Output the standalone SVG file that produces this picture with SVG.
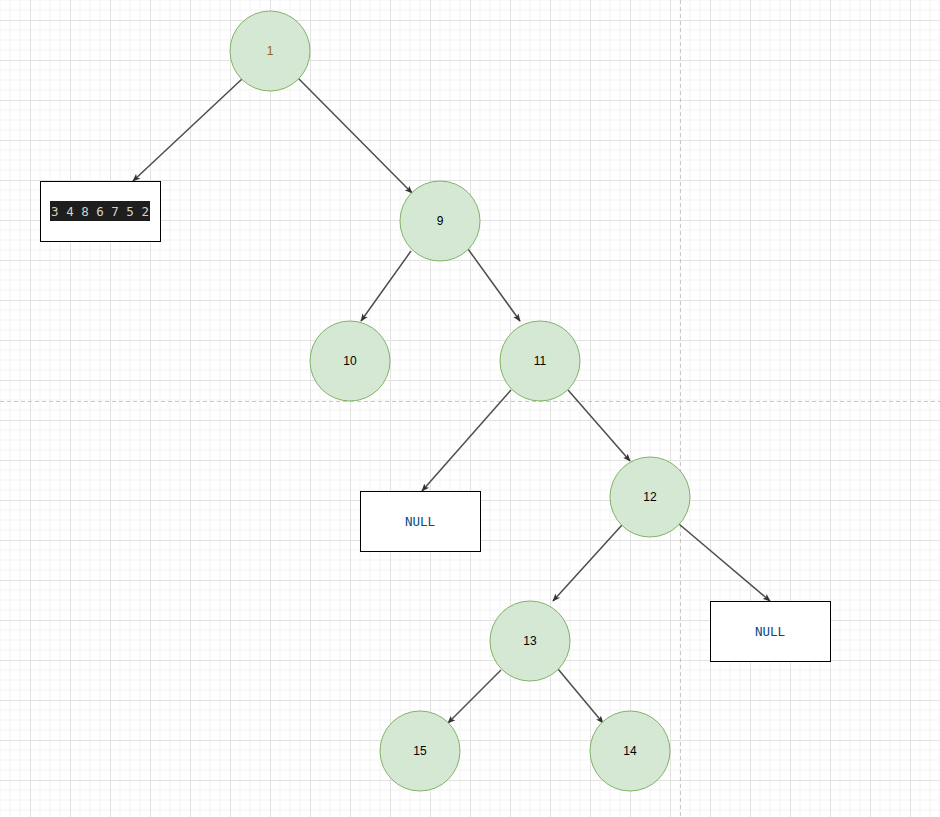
<svg xmlns="http://www.w3.org/2000/svg" width="940" height="817" viewBox="0 0 940 817">
<defs>
<pattern id="grid" x="30" y="20" width="40" height="40" patternUnits="userSpaceOnUse">
<path d="M10 0V40M20 0V40M30 0V40M0 10H40M0 20H40M0 30H40" stroke="#f3f3f3" stroke-width="1" fill="none"/>
<path d="M0.5 0V40M0 0.5H40" stroke="#e2e2e2" stroke-width="1" fill="none"/>
</pattern>
<marker id="arr" viewBox="0 0 10 10" refX="9" refY="5" markerWidth="8" markerHeight="8" markerUnits="userSpaceOnUse" orient="auto">
<path d="M0 1L10 5L0 9L2.5 5Z" fill="#333"/>
</marker>
</defs>
<style>
.n{fill:#d5e8d4;stroke:#82b366;stroke-width:1}
.b{fill:#fff;stroke:#000;stroke-width:1}
.t{font-family:"Liberation Sans",Arial,sans-serif;font-size:12px;text-anchor:middle;dominant-baseline:central;fill:#000}
.m{font-family:"DejaVu Sans Mono","Liberation Mono",monospace;font-size:12.5px;text-anchor:middle;dominant-baseline:central}
.e{stroke:#4d4d4d;stroke-width:1.5;fill:none;marker-end:url(#arr)}
</style>
<rect width="940" height="817" fill="#fff"/>
<rect width="940" height="817" fill="url(#grid)"/>
<line x1="0" y1="401.5" x2="940" y2="401.5" stroke="#c8c8c8" stroke-dasharray="4 3"/>
<line x1="680.5" y1="0" x2="680.5" y2="817" stroke="#c8c8c8" stroke-dasharray="4 3"/>
<g id="connectors">
<line class="e" x1="242" y1="79" x2="133" y2="181"/>
<line class="e" x1="298" y1="78" x2="412" y2="193"/>
<line class="e" x1="411" y1="251" x2="361" y2="321"/>
<line class="e" x1="468" y1="249" x2="520" y2="321"/>
<line class="e" x1="511" y1="390" x2="422" y2="491"/>
<line class="e" x1="568" y1="390" x2="630" y2="461"/>
<line class="e" x1="622" y1="525" x2="553" y2="601"/>
<line class="e" x1="679" y1="524" x2="770" y2="601"/>
<line class="e" x1="501" y1="670" x2="448" y2="723"/>
<line class="e" x1="558" y1="669" x2="603" y2="723"/>
</g>
<g id="n1"><circle class="n" cx="270" cy="51" r="40"/><text class="t" x="270" y="51" style="fill:#9a6400">1</text></g>
<g id="arr-box"><rect class="b" x="40.5" y="181.5" width="120" height="60"/><rect x="50" y="201" width="100" height="20" fill="#1e1e1e"/><text class="m" x="100" y="211" style="fill:#d4d4c4" xml:space="preserve">3 4 8 6 7 5 2</text></g>
<g id="n9"><circle class="n" cx="440" cy="221" r="40"/><text class="t" x="440" y="221">9</text></g>
<g id="n10"><circle class="n" cx="350" cy="361" r="40"/><text class="t" x="350" y="361">10</text></g>
<g id="n11"><circle class="n" cx="540" cy="361" r="40"/><text class="t" x="540" y="361">11</text></g>
<g id="null1"><rect class="b" x="360.5" y="491.5" width="120" height="60"/><text class="m" x="420" y="521" style="fill:#0a4a80">NULL</text></g>
<g id="n12"><circle class="n" cx="650" cy="497" r="40"/><text class="t" x="650" y="497">12</text></g>
<g id="null2"><rect class="b" x="710.5" y="601.5" width="120" height="60"/><text class="m" x="770" y="631" style="fill:#0a4a80">NULL</text></g>
<g id="n13"><circle class="n" cx="530" cy="641" r="40"/><text class="t" x="530" y="641">13</text></g>
<g id="n15"><circle class="n" cx="420" cy="751" r="40"/><text class="t" x="420" y="751">15</text></g>
<g id="n14"><circle class="n" cx="630" cy="751" r="40"/><text class="t" x="630" y="751">14</text></g>
</svg>
